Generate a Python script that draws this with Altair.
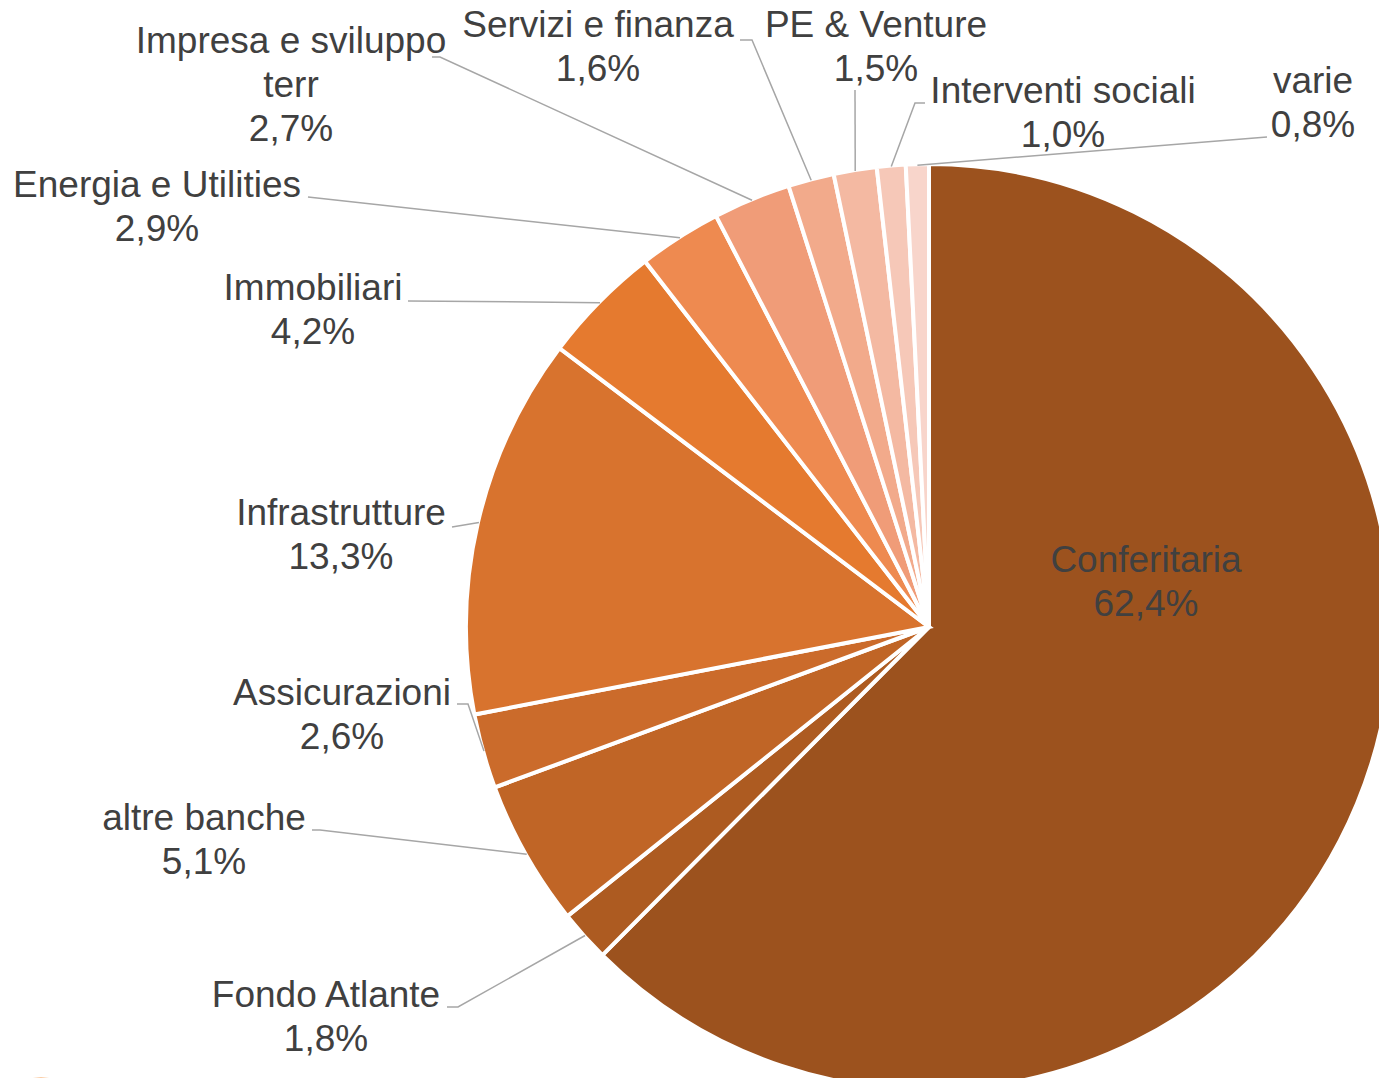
import altair as alt
import pandas as pd
import math

# ---- data ----
categories = ["Conferitaria", "Fondo Atlante", "altre banche", "Assicurazioni",
              "Infrastrutture", "Immobiliari", "Energia e Utilities",
              "Impresa e sviluppo terr", "Servizi e finanza", "PE & Venture",
              "Interventi sociali", "varie"]
values = [62.4, 1.8, 5.1, 2.6, 13.3, 4.2, 2.9, 2.7, 1.6, 1.5, 1.0, 0.8]
label_lines = [["Conferitaria"], ["Fondo Atlante"], ["altre banche"], ["Assicurazioni"],
               ["Infrastrutture"], ["Immobiliari"], ["Energia e Utilities"],
               ["Impresa e sviluppo", "terr"], ["Servizi e finanza"], ["PE & Venture"],
               ["Interventi sociali"], ["varie"]]
colors = ["#9C521E", "#AD5B21", "#C06526", "#CB6B2B", "#D8732E", "#E57A2F",
          "#EE8A50", "#F09C78", "#F2AA8B", "#F4B9A2", "#F6C8B8", "#F8D5CB"]

# ---- layout (pixel positions, chart coordinates) ----
W, H = 1371, 1070
OFF = 8
CX, CY, R = 929 - OFF, 627 - OFF, 463
# label anchor: center x, first baseline y (page coords)
label_pos = [(1146, 572), (326, 1007), (204, 830), (342, 705), (341, 525), (313, 300),
             (157, 197), (291, 53), (598, 37), (876, 37), (1063, 103), (1313, 93)]
# leader line label-side points (page coords); None = no leader
leader_pts = [None, [(447, 1007), (458, 1007)], [(312, 830), (320, 830)],
              [(457, 704), (468, 704)], [(452, 527)], [(408, 301)], [(308, 197)],
              [(432, 57), (440, 57)], [(740, 40), (752, 40)], [(855, 90)],
              [(925, 103), (915, 103)], [(1267, 137)]]

def fmt(v):
    return f"{v:.1f}".replace(".", ",") + "%"

pie_df = pd.DataFrame({"category": categories, "value": values,
                       "order": list(range(len(categories)))})

lab_rows = []
for i, c in enumerate(categories):
    lines = label_lines[i] + [fmt(values[i])]
    lab_rows.append({"text": "\n".join(lines), "x": label_pos[i][0] - OFF,
                     "y": label_pos[i][1] - OFF})
lab_df = pd.DataFrame(lab_rows)

total = sum(values)
line_rows = []
cum = 0.0
for i, v in enumerate(values):
    mid = (cum + v / 2) / total * 2 * math.pi
    cum += v
    pts = leader_pts[i]
    if pts is None:
        continue
    k = 0
    for (px, py) in pts:
        line_rows.append({"g": i, "k": k, "x": px - OFF, "y": py - OFF})
        k += 1
    line_rows.append({"g": i, "k": k, "x": CX + (R - 1) * math.sin(mid),
                      "y": CY - (R - 1) * math.cos(mid)})
line_df = pd.DataFrame(line_rows)

pie = alt.Chart(pie_df).mark_arc(outerRadius=R, stroke="white", strokeWidth=4).encode(
    theta=alt.Theta("value:Q", stack=True),
    order=alt.Order("order:Q"),
    color=alt.Color("category:N", scale=alt.Scale(domain=categories, range=colors), legend=None),
    x=alt.value(CX), y=alt.value(CY),
)

leaders = alt.Chart(line_df).mark_line(color="#A6A6A6", strokeWidth=1.5).encode(
    x=alt.X("x:Q", scale=None, axis=None),
    y=alt.Y("y:Q", scale=None, axis=None),
    detail="g:N",
    order="k:Q",
)

labels = alt.Chart(lab_df).mark_text(
    font="Liberation Sans", fontSize=37, color="#404040", align="center",
    baseline="alphabetic", lineBreak="\n", lineHeight=44,
).encode(
    x=alt.X("x:Q", scale=None, axis=None),
    y=alt.Y("y:Q", scale=None, axis=None),
    text="text:N",
)

deco = alt.Chart(pd.DataFrame({"x": [41 - OFF], "y": [1131 - OFF]})).mark_circle(
    size=11500, color="#F4994B", opacity=1).encode(
    x=alt.X("x:Q", scale=None, axis=None),
    y=alt.Y("y:Q", scale=None, axis=None),
)

chart = alt.layer(pie, leaders, labels, deco).properties(
    width=W, height=H, autosize=alt.AutoSizeParams(type="none"), padding=0,
).configure_view(stroke=None)

chart.save("out.html", embed_options={"renderer": "svg", "actions": False})
